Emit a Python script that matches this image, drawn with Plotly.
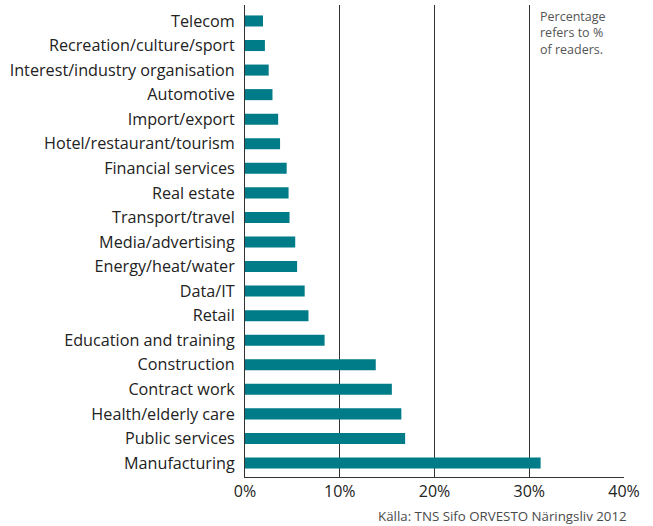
import plotly.graph_objects as go

categories = ["Telecom", "Recreation/culture/sport", "Interest/industry organisation",
              "Automotive", "Import/export", "Hotel/restaurant/tourism",
              "Financial services", "Real estate", "Transport/travel",
              "Media/advertising", "Energy/heat/water", "Data/IT", "Retail",
              "Education and training", "Construction", "Contract work",
              "Health/elderly care", "Public services", "Manufacturing"]
values = [1.9, 2.1, 2.5, 2.9, 3.5, 3.7, 4.4, 4.6, 4.7, 5.3, 5.5, 6.3, 6.7,
          8.4, 13.8, 15.5, 16.5, 16.9, 31.2]
tick_vals = [0, 10, 20, 30, 40]
tick_text = ["0%", "10%", "20%", "30%", "40%"]

FONT = "Open Sans"
fig = go.Figure(go.Bar(
    x=values, y=categories, orientation="h",
    marker=dict(color="#007C89", line=dict(width=0)),
    width=0.45,
))
fig.update_layout(
    width=653, height=526,
    margin=dict(l=245, r=29, t=5, b=49),
    plot_bgcolor="white", paper_bgcolor="white",
    showlegend=False,
    font=dict(family=FONT, size=15, color="#222222"),
)
fig.update_xaxes(
    range=[0, 40], tickvals=tick_vals, ticktext=tick_text,
    showgrid=True, gridcolor="#333333", gridwidth=1,
    showline=True, linecolor="#333333", linewidth=1,
    zeroline=False, ticks="", ticklen=0,
    tickfont=dict(size=16, family=FONT, color="#222222"),
)
fig.update_yaxes(
    categoryorder="array", categoryarray=categories,
    range=[18.57, -0.65],
    showgrid=False, showline=True, linecolor="#333333", linewidth=1,
    ticks="", ticklen=0, zeroline=False, ticklabelstandoff=6,
    tickfont=dict(size=16.2, family=FONT, color="#222222"),
)
fig.add_annotation(
    xref="x", yref="paper", x=30.9, y=0.997, xanchor="left", yanchor="top",
    text="Percentage<br>refers to %<br>of readers.", showarrow=False, align="left",
    font=dict(size=12.5, family=FONT, color="#555555"),
)
fig.add_annotation(
    xref="paper", yref="paper", x=1.012, y=-0.06, xanchor="right", yanchor="top",
    text="Källa: TNS Sifo ORVESTO Näringsliv 2012", showarrow=False,
    font=dict(size=13.3, family=FONT, color="#4a4a4a"),
)
fig.write_html("out.html", config={"displayModeBar": False},
               post_script="document.body.style.margin='0px';")
